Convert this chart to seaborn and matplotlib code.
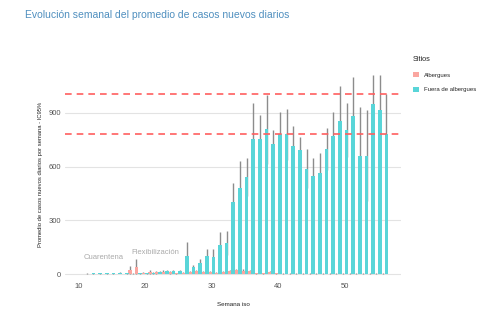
import numpy as np
import pandas as pd
import matplotlib
matplotlib.use("Agg")
import matplotlib.pyplot as plt
from matplotlib.patches import Patch
from matplotlib.colors import to_hex
import seaborn as sns

semanas = list(range(11, 57))

albergues = [0, 0, 0, 0, 0, 0, 0, 22, 40, 8, 12, 10, 12, 10, 5, 8, 10, 15, 10, 12,
             8, 10, 15, 20, 18, 15, 5, 5, 10, 3, 2, 2, 2, 2, 2, 2, 2, 2, 2, 2,
             2, 2, 2, 2, 2, 2]
albergues_sup = [0, 0, 0, 0, 0, 0, 0, 43, 85, 12, 25, 18, 20, 18, 8, 12, 16, 24, 16, 18,
                 12, 16, 22, 28, 26, 22, 8, 8, 15, 5, 3, 3, 3, 3, 3, 3, 3, 3, 3, 3,
                 3, 3, 3, 3, 3, 3]

fuera = [2, 3, 5, 5, 5, 6, 3, 2, 3, 3, 8, 10, 15, 15, 15, 103, 40, 62, 99, 96,
         164, 176, 402, 478, 542, 754, 754, 808, 726, 780, 780, 714, 692, 587, 548, 566, 698, 773, 855, 804,
         883, 658, 662, 949, 915, 780]
fuera_sup = [4, 5, 8, 8, 8, 9, 5, 4, 5, 5, 14, 16, 25, 24, 20, 177, 52, 86, 140, 140,
             235, 243, 510, 632, 647, 956, 891, 1003, 804, 906, 921, 827, 767, 696, 647, 679, 816, 908, 1048, 956,
             1101, 936, 917, 1110, 1114, 1007]

sitios = ["Albergues", "Fuera de albergues"]
colores = {"Albergues": "#FAA6A0", "Fuera de albergues": "#59D5D8"}
umbrales = [1005, 785]

df = pd.DataFrame({
    "semana": semanas * 2,
    "valor": albergues + fuera,
    "sup": albergues_sup + fuera_sup,
    "sitio": ["Albergues"] * len(semanas) + ["Fuera de albergues"] * len(semanas),
})
df["inf"] = (2 * df["valor"] - df["sup"]).clip(lower=0)

sns.set_style("white")
plt.rcParams["font.family"] = ["Liberation Sans", "DejaVu Sans"]

fig = plt.figure(figsize=(5, 3.27), dpi=100)
ax = fig.add_axes([0.13, 0.1483, 0.6726, 0.6376])

sns.barplot(data=df, x="semana", y="valor", hue="sitio", hue_order=sitios,
            native_scale=True, palette=colores, errorbar=None, width=1.1,
            saturation=1, legend=False, ax=ax, zorder=2, linewidth=0)

# error bars at the centres of the bars seaborn drew
for s in sitios:
    col = colores[s].lower()
    centres = sorted(p.get_x() + p.get_width() / 2 for p in ax.patches
                     if to_hex(p.get_facecolor()).lower() == col)
    sub = df[df["sitio"] == s].sort_values("semana")
    ax.vlines(centres, sub["inf"], sub["sup"], color="#8c8c8c", linewidth=1.0, zorder=1)

for u in umbrales:
    ax.axhline(u, color="#FF5f5f", linestyle=(0, (4, 3)), linewidth=1.2, zorder=3)

ax.text(13.8, 90, "Cuarentena", ha="center", va="center", fontsize=5.5, color="#aaaaaa")
ax.text(21.6, 123, "Flexibilización", ha="center", va="center", fontsize=5.5, color="#aaaaaa")

ax.set_xlim(8, 58.5)
ax.set_ylim(-25, 1140)
ax.set_yticks([0, 300, 600, 900])
ax.set_xticks([10, 20, 30, 40, 50])
ax.yaxis.grid(True, color="#e3e3e3", linewidth=0.8)
ax.set_axisbelow(True)
for sp in ax.spines.values():
    sp.set_visible(False)
ax.tick_params(axis="both", length=0, labelsize=5.5, colors="#555555", pad=3)

ax.set_xlabel("Semana iso", fontsize=4.5, color="#222222", labelpad=9)
ax.set_ylabel("Promedio de casos nuevos diarios por semana - IC95%", fontsize=4.2,
              color="#222222", labelpad=4)

fig.text(0.05, 0.955, "Evolución semanal del promedio de casos nuevos diarios",
         fontsize=7.5, color="#4F8FBF", ha="left", va="center")

handles = [Patch(facecolor=colores[s], edgecolor="none") for s in sitios]
leg = fig.legend(handles, sitios, title="Sitios", loc="upper left",
                 bbox_to_anchor=(0.815, 0.845), frameon=False, fontsize=4.3,
                 title_fontsize=5.3, handlelength=1.0, handleheight=1.0,
                 labelspacing=1.5, alignment="left")

fig.savefig("out.png", dpi=100, facecolor="white")
